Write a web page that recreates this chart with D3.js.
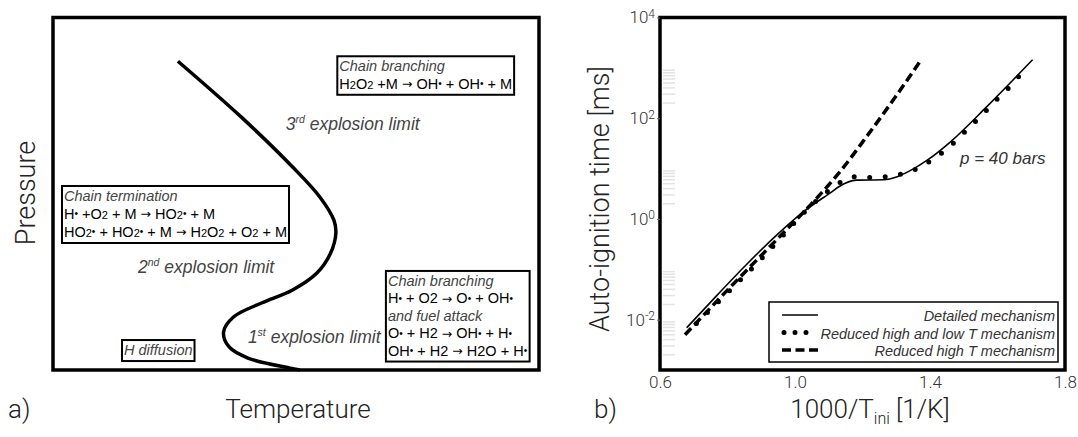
<!DOCTYPE html>
<html>
<head>
<meta charset="utf-8">
<script src="https://cdn.jsdelivr.net/npm/d3@7"></script>
<style>
body { margin: 0; background: #fff; }
svg { display: block; }
.light { font-family: Roboto, "Liberation Sans", sans-serif; font-weight: 300; fill: #222; }
.note { font-family: "Liberation Sans", Arial, sans-serif; font-size: 14.5px; fill: #000; }
.note .it { font-style: italic; fill: #444; }
.obl { font-family: "Liberation Sans", Arial, sans-serif; font-style: italic; fill: #444; }
</style>
</head>
<body>
<script>
const w = 1078;
const h = 437;

// a) schematic H2/O2 explosion limit, arbitrary units (0-100 on both axes)
const limitT = [25.7, 38.7, 49.3, 54.9, 57.8, 58.2, 57.1, 54.3, 49.3, 42.9, 37.2, 35.1, 36.2, 40.1, 48.6, 50.8];
const limitP = [87.6, 71.8, 57.6, 49.1, 42.5, 38.8, 33.1, 27.5, 22.7, 19.0, 15.1, 10.8, 6.6, 3.4, 0.6, 0];

const noteTop = ['_Chain branching', 'H2O2 +M → OH• + OH• + M'];
const noteTerm = ['_Chain termination', 'H• +O2 + M → HO2• + M', 'HO2• + HO2• + M → H2O2 + O2 + M'];
const noteLow = ['_Chain branching', 'H• + O2 → O• + OH•', '_and fuel attack', 'O• + H2 → OH• + H•', 'OH• + H2 → H2O + H•'];
const noteDiff = ['_H diffusion'];

// b) auto-ignition time [ms] vs 1000/T [1/K], p = 40 bar
const detailedX = [0.679, 0.768, 0.857, 0.940, 1.019, 1.110, 1.131, 1.181, 1.262, 1.303, 1.344, 1.394, 1.465, 1.567, 1.704];
const detailedTau = [0.0069, 0.030, 0.126, 0.44, 1.29, 3.5, 4.4, 5.9, 6.0, 6.9, 9.3, 15, 36, 166, 1450];

const reducedHLX = [0.708, 0.804, 0.902, 0.965, 1.029, 1.095, 1.134, 1.173, 1.220, 1.267, 1.313, 1.356, 1.397, 1.435, 1.470, 1.503, 1.536, 1.567, 1.600, 1.633, 1.663];
const reducedHLTau = [0.0084, 0.0365, 0.166, 0.474, 1.39, 3.46, 5.30, 6.85, 6.65, 6.85, 7.74, 9.57, 13.6, 20.5, 32.2, 53.2, 87.7, 143, 243, 400, 671];

const reducedHX = [0.674, 0.816, 0.958, 1.060, 1.131, 1.212, 1.293, 1.374];
const reducedHTau = [0.0050, 0.050, 0.47, 2.4, 8.3, 43, 240, 1450];

const xTicks = [0.6, 1.0, 1.4, 1.8];
const yTicks = [1e-2, 1, 1e2, 1e4];
const legendLabels = ['Detailed mechanism', 'Reduced high and low T mechanism', 'Reduced high T mechanism'];

const svg = d3.select('body').append('svg').attr('width', w).attr('height', h);

// writes a formula, shrinking radical dots (and optionally the 2s)
function chem(sel, str, smallTwo) {
  let shift = 0;
  str.split(/(•|2|→)/).forEach(s => {
    if (!s) return;
    const t = sel.append('tspan').text(s);
    let want = 0;
    if (s === '•') { t.style('font-size', '10px'); want = -1.5; }
    else if (s === '→') { t.style('font-family', '"DejaVu Sans", sans-serif').style('font-size', '12.5px'); want = -0.5; }
    else if (s === '2' && smallTwo) t.style('font-size', '11px');
    t.attr('dy', want - shift);
    shift = want;
  });
}

function ordinal(sel, num, sup, rest) {
  sel.append('tspan').text(num);
  sel.append('tspan').attr('dy', -7).style('font-size', '10.5px').text(sup);
  sel.append('tspan').attr('dy', 7).text(' ' + rest);
}

/* ---------------- panel a ---------------- */
const A = {l: 53, r: 539, t: 17.5, b: 370};
const tScale = d3.scaleLinear().domain([0, 100]).range([A.l, A.r]);
const pScale = d3.scaleLinear().domain([0, 100]).range([A.b, A.t]);

const limitLine = d3.line()
  .x((d, i) => tScale(limitT[i]))
  .y((d, i) => pScale(limitP[i]))
  .curve(d3.curveCatmullRom.alpha(0.5));

svg.append('path').datum(limitT).attr('d', limitLine)
  .attr('fill', 'none').attr('stroke', '#000').attr('stroke-width', 3.5);

// note boxes: top-left corner in schematic units
function noteBox(lines, T, P, smallTwo, lineH) {
  const g = svg.append('g').attr('class', 'note');
  const x0 = tScale(T), y0 = pScale(P);
  lines.forEach((s, i) => {
    const t = g.append('text').attr('x', x0 + 2).attr('y', y0 + 15 + i * lineH);
    if (s[0] === '_') t.attr('class', 'it').text(s.slice(1));
    else chem(t, s, smallTwo);
  });
  const bb = g.node().getBBox();
  g.insert('rect', 'text')
    .attr('x', x0).attr('y', y0)
    .attr('width', bb.x + bb.width - x0 + 2)
    .attr('height', 15 + (lines.length - 1) * lineH + 6)
    .attr('fill', '#fff').attr('stroke', '#000').attr('stroke-width', 2);
}

noteBox(noteTop, 58.5, 89.0, true, 17.5);
noteBox(noteTerm, 1.85, 52.2, true, 18);
noteBox(noteLow, 68.5, 28.1, false, 17.4);
noteBox(noteDiff, 14.2, 8.5, false, 17);

const limLabels = [['3', 'rd', 47.9, 68.0], ['2', 'nd', 17.5, 27.5], ['1', 'st', 40.1, 7.6]];
limLabels.forEach(d => {
  const t = svg.append('text').attr('class', 'obl')
    .attr('x', tScale(d[2])).attr('y', pScale(d[3]))
    .style('font-size', '17.5px');
  ordinal(t, d[0], d[1], 'explosion limit');
});

svg.append('rect').attr('x', A.l).attr('y', A.t).attr('width', A.r - A.l).attr('height', A.b - A.t)
  .attr('fill', 'none').attr('stroke', '#000').attr('stroke-width', 3.5);

svg.append('text').attr('class', 'light').attr('transform', 'translate(35,193) rotate(-90)')
  .attr('text-anchor', 'middle').style('font-size', '27px').text('Pressure');
svg.append('text').attr('class', 'light').attr('x', 298).attr('y', 418)
  .attr('text-anchor', 'middle').style('font-size', '26px').text('Temperature');
svg.append('text').attr('class', 'light').attr('x', 8).attr('y', 418)
  .style('font-size', '26px').text('a)');

/* ---------------- panel b ---------------- */
const B = {l: 660, r: 1065, t: 17.5, b: 370};
const x = d3.scaleLinear().domain([0.6, 1.8]).range([B.l, B.r]);
const y = d3.scaleLog().domain([1e-3, 1e4]).range([B.b, B.t]);

// faint minor ticks (they show as grey smudges inside the left spine)
[-3, -2, 0, 2].forEach(e => {
  d3.range(2, 10).forEach(k => {
    svg.append('line').attr('x1', B.l + 3).attr('x2', B.l + 15)
      .attr('y1', y(k * Math.pow(10, e))).attr('y2', y(k * Math.pow(10, e)))
      .attr('stroke', '#e3e3e3').attr('stroke-width', 1.5);
  });
});

const line = d3.line().x(d => x(d[0])).y(d => y(d[1])).curve(d3.curveMonotoneX);

svg.append('path').datum(d3.zip(detailedX, detailedTau)).attr('d', line)
  .attr('fill', 'none').attr('stroke', '#000').attr('stroke-width', 1.6);
svg.append('path').datum(d3.zip(reducedHX, reducedHTau)).attr('d', line)
  .attr('fill', 'none').attr('stroke', '#000').attr('stroke-width', 3.5)
  .attr('stroke-dasharray', '9 4.5');
svg.append('path').datum(d3.zip(reducedHLX, reducedHLTau)).attr('d', line)
  .attr('fill', 'none').attr('stroke', '#000').attr('stroke-width', 5)
  .attr('stroke-linecap', 'round').attr('stroke-dasharray', '0 15.5');

svg.append('text').attr('class', 'obl').attr('x', x(1.489)).attr('y', y(12.4))
  .style('font-size', '17px').style('fill', '#333').text('p = 40 bars');

// legend
const lg = svg.append('g');
lg.append('rect').attr('x', 769).attr('y', 302).attr('width', 289).attr('height', 60)
  .attr('fill', '#fff').attr('stroke', '#000').attr('stroke-width', 1.5);
const legendDash = [null, '0 11', '9 4.5'];
const legendWidth = [1.6, 5, 3.5];
legendLabels.forEach((s, i) => {
  const yy = 315 + i * 17.5;
  lg.append('line').attr('x1', i === 1 ? 784 : 782).attr('x2', i === 1 ? 817 : 818).attr('y1', yy).attr('y2', yy)
    .attr('stroke', '#000').attr('stroke-width', legendWidth[i])
    .attr('stroke-dasharray', legendDash[i]).attr('stroke-linecap', i === 1 ? 'round' : 'butt');
  lg.append('text').attr('x', 1055).attr('y', yy + 6).attr('text-anchor', 'end')
    .attr('font-family', '"Liberation Sans", Arial, sans-serif').attr('font-size', 14.5)
    .attr('font-style', 'italic').attr('fill', '#333').text(s);
});

svg.append('rect').attr('x', B.l).attr('y', B.t).attr('width', B.r - B.l).attr('height', B.b - B.t)
  .attr('fill', 'none').attr('stroke', '#000').attr('stroke-width', 3.5);

// axes
const gx = svg.append('g').attr('transform', `translate(0,${B.b})`)
  .call(d3.axisBottom(x).tickValues(xTicks).tickSize(0).tickPadding(6).tickFormat(d3.format('.1f')));
gx.select('.domain').remove();
gx.selectAll('text').attr('class', 'light').style('font-size', '17px').style('fill', '#333');

const gy = svg.append('g').attr('transform', `translate(${B.l},0)`)
  .call(d3.axisLeft(y).tickValues(yTicks).tickSize(3).tickPadding(2));
gy.select('.domain').remove();
gy.selectAll('line').attr('stroke', '#666');
gy.selectAll('.tick text').attr('class', 'light').style('font-size', '17px').style('fill', '#333')
  .each(function(d) {
    const t = d3.select(this).text(null);
    t.append('tspan').text('10');
    t.append('tspan').attr('dy', '-0.45em').style('font-size', '12px').text(Math.round(Math.log10(d)));
  });

svg.append('text').attr('class', 'light').attr('transform', 'translate(609,199) rotate(-90)')
  .attr('text-anchor', 'middle').style('font-size', '27px').text('Auto-ignition time [ms]');

const xl = svg.append('text').attr('class', 'light').attr('x', 870).attr('y', 418)
  .attr('text-anchor', 'middle').style('font-size', '26px');
xl.append('tspan').text('1000/T');
xl.append('tspan').attr('dy', 6).style('font-size', '16px').text('ini');
xl.append('tspan').attr('dy', -6).text(' [1/K]');

svg.append('text').attr('class', 'light').attr('x', 594).attr('y', 418)
  .style('font-size', '26px').text('b)');
</script>
</body>
</html>
